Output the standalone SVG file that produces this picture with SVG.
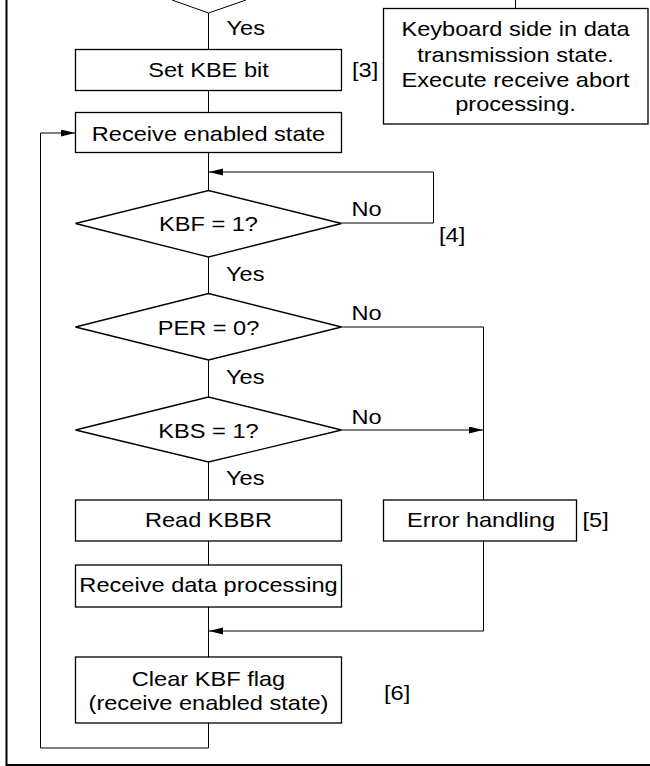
<svg xmlns="http://www.w3.org/2000/svg" width="650" height="766" viewBox="0 0 650 766">
  <style>
    .box { fill: #fff; stroke: #000; stroke-width: 1.3; }
    .wire { fill: none; stroke: #000; stroke-width: 1; }
    .frame { fill: none; stroke: #000; stroke-width: 2; }
    text { font-family: "Liberation Sans", Arial, sans-serif; font-size: 20px; fill: #000; }
    .c { text-anchor: middle; }
  </style>
  <defs>
    <marker id="arrow" markerUnits="userSpaceOnUse" markerWidth="14" markerHeight="8" refX="14" refY="3.5" orient="auto">
      <path d="M0,0 L14,3.5 L0,7 z" fill="#000"/>
    </marker>
  </defs>

  <!-- page frame: left and bottom edges -->
  <path class="frame" d="M6.5,0 V765 H650"/>

  <!-- connectors -->
  <g id="connectors">
    <!-- incoming decision (top) -->
    <path class="wire" d="M172,0 L208.5,13 L246,0"/>
    <path class="wire" d="M208.5,13 V49.5"/>
    <path class="wire" d="M208.5,90.5 V112.5"/>
    <path class="wire" d="M208.5,152.5 V190.5"/>
    <!-- line to abort box -->
    <path class="wire" d="M515.5,0 V8.5"/>
    <!-- KBF = 1? No loop -->
    <path class="wire" d="M341.5,223 H433.5 V172 H209" marker-end="url(#arrow)"/>
    <path class="wire" d="M208.5,257 V293.5"/>
    <!-- PER = 0? No -->
    <path class="wire" d="M341.5,327 H483.5 V500"/>
    <path class="wire" d="M208.5,360 V397"/>
    <!-- KBS = 1? No -->
    <path class="wire" d="M341.5,430 H483" marker-end="url(#arrow)"/>
    <path class="wire" d="M208.5,462 V500"/>
    <path class="wire" d="M208.5,541 V565"/>
    <path class="wire" d="M208.5,607 V657"/>
    <!-- error path rejoin -->
    <path class="wire" d="M483.5,541 V631 H209" marker-end="url(#arrow)"/>
    <!-- loop back to receive enabled state -->
    <path class="wire" d="M208.5,723 V748 H40.5 V133 H75" marker-end="url(#arrow)"/>
  </g>

  <!-- edge labels -->
  <g id="labels">
    <text transform="translate(226.5 35) scale(1.18 1)">Yes</text>
    <text transform="translate(352 77) scale(1.18 1)">[3]</text>
    <text transform="translate(351.5 216) scale(1.18 1)">No</text>
    <text transform="translate(439 241.5) scale(1.18 1)">[4]</text>
    <text transform="translate(226 280.5) scale(1.18 1)">Yes</text>
    <text transform="translate(351.5 320) scale(1.18 1)">No</text>
    <text transform="translate(226 383.5) scale(1.18 1)">Yes</text>
    <text transform="translate(351.5 424) scale(1.18 1)">No</text>
    <text transform="translate(226 485) scale(1.18 1)">Yes</text>
    <text transform="translate(582.5 526.5) scale(1.18 1)">[5]</text>
    <text transform="translate(384 700) scale(1.18 1)">[6]</text>
  </g>

  <g id="set-kbe">
    <rect class="box" x="75.5" y="49.5" width="266" height="41"/>
    <text class="c" transform="translate(208.5 77) scale(1.18 1)">Set KBE bit</text>
  </g>

  <g id="abort">
    <rect class="box" x="383.5" y="8.5" width="264.5" height="115.5"/>
    <text class="c" transform="translate(515.5 36) scale(1.18 1)">Keyboard side in data</text>
    <text class="c" transform="translate(515.5 61.5) scale(1.18 1)">transmission state.</text>
    <text class="c" transform="translate(515.5 86.5) scale(1.18 1)">Execute receive abort</text>
    <text class="c" transform="translate(515.5 110.5) scale(1.18 1)">processing.</text>
  </g>

  <g id="receive-enabled">
    <rect class="box" x="75.5" y="112.5" width="266" height="40"/>
    <text class="c" transform="translate(208.5 140.5) scale(1.18 1)">Receive enabled state</text>
  </g>

  <g id="kbf-check">
    <path class="box" d="M75.5,223.5 L208.5,190.5 L341.5,223.5 L208.5,257 z"/>
    <text class="c" transform="translate(208.5 230.5) scale(1.18 1)">KBF = 1?</text>
  </g>

  <g id="per-check">
    <path class="box" d="M75.5,327 L208.5,293.5 L341.5,327 L208.5,360 z"/>
    <text class="c" transform="translate(208.5 334.5) scale(1.18 1)">PER = 0?</text>
  </g>

  <g id="kbs-check">
    <path class="box" d="M75.5,430 L208.5,397 L341.5,430 L208.5,462 z"/>
    <text class="c" transform="translate(208.5 437.5) scale(1.18 1)">KBS = 1?</text>
  </g>

  <g id="read-kbbr">
    <rect class="box" x="75.5" y="500" width="266" height="41"/>
    <text class="c" transform="translate(208.5 527) scale(1.18 1)">Read KBBR</text>
  </g>

  <g id="error-handling">
    <rect class="box" x="383.5" y="500" width="193" height="41"/>
    <text class="c" transform="translate(481 526.5) scale(1.18 1)">Error handling</text>
  </g>

  <g id="receive-data">
    <rect class="box" x="75.5" y="565" width="266" height="42"/>
    <text class="c" transform="translate(208.5 592) scale(1.18 1)">Receive data processing</text>
  </g>

  <g id="clear-kbf">
    <rect class="box" x="75.5" y="657" width="266" height="66"/>
    <text class="c" transform="translate(208.5 686) scale(1.18 1)">Clear KBF flag</text>
    <text class="c" transform="translate(208.5 710) scale(1.18 1)">(receive enabled state)</text>
  </g>
</svg>
